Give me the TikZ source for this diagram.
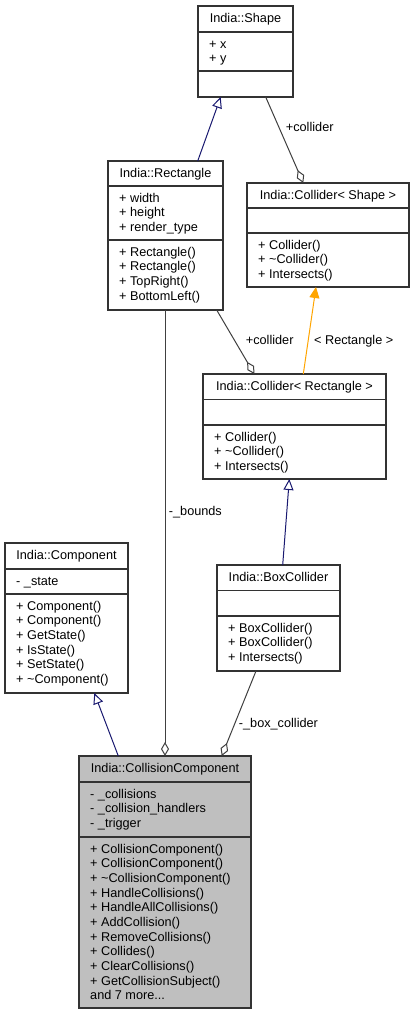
\documentclass[tikz,border=0pt]{standalone}
\usepackage{fontspec}
\setmainfont{Liberation Sans}
\usetikzlibrary{arrows.meta}
\definecolor{edgegray}{HTML}{404040}
\definecolor{inhblue}{HTML}{191970}
\definecolor{tmplorange}{HTML}{FFA500}
\definecolor{ccfill}{HTML}{BFBFBF}
\tikzset{
  classbox/.style={draw=black!80, line width=1.2pt, inner sep=0pt, outer sep=0pt},
  sepline/.style={draw=black!80, line width=1.2pt},
  txt/.style={font=\fontsize{12.7}{14.65}\selectfont, inner sep=0pt, text=black},
  inherit/.style={draw=inhblue, line width=1pt, -{Triangle[length=11pt,width=10pt,fill=white]}},
  aggr/.style={draw=edgegray, line width=1pt, -{Diamond[length=14pt,width=8pt,fill=white]}},
  tmpl/.style={draw=tmplorange, line width=1pt, -{Triangle[length=11pt,width=10pt]}},
}
% #1 name #2 L #3 T #4 R #5 B #6 S1 #7 S2 #8 title #9 fill
\newcommand\umlclass[9]{%
  \node[classbox, fill=#9, minimum width={#4pt-#2pt}, minimum height={#5pt-#3pt}] (#1) at ({(#2+#4)/2},{(#3+#5)/2}) {};
  \draw[sepline] (#2,#6) -- (#4,#6);
  \draw[sepline] (#2,#7) -- (#4,#7);
  \node[txt, anchor=base] (#1-title) at ({(#2+#4)/2},{#3+16.6}) {#8};
}
% #1 name prefix #2 x #3 first baseline #4 list
\newcommand\memberlines[4]{%
  \foreach \t [count=\i from 0] in {#4} {\node[txt, anchor=base west] (#1-\i) at (#2,{#3+\i*14.65}) {\t};}
}
\begin{document}
\begin{tikzpicture}[x=1pt,y=-1pt]
\useasboundingbox[fill=white] (0,0) rectangle (414,1015);

% India::Shape
\umlclass{shape}{198}{6}{293}{97}{32}{71}{India::Shape}{white}
\memberlines{shapeA}{209}{48.3}{+ x,+ y}

% India::Rectangle
\umlclass{rect}{108}{161}{223}{310}{186}{240}{India::Rectangle}{white}
\memberlines{rectA}{119}{202.3}{+ width,+ height,+ render\_type}
\memberlines{rectM}{119}{256.3}{+ Rectangle(),+ Rectangle(),+ TopRight(),+ BottomLeft()}

% India::Collider< Shape >
\umlclass{cs}{247}{183}{409}{287}{208}{233}{India::Collider< Shape >}{white}
\memberlines{csM}{258}{249.3}{+ Collider(),+ \textasciitilde Collider(),+ Intersects()}

% India::Collider< Rectangle >
\umlclass{cr}{203}{374}{386}{479}{399.5}{425}{India::Collider< Rectangle >}{white}
\memberlines{crM}{214}{441.3}{+ Collider(),+ \textasciitilde Collider(),+ Intersects()}

% India::Component
\umlclass{comp}{5}{543}{128}{693}{569}{594}{India::Component}{white}
\memberlines{compA}{16}{585.3}{- \_state}
\memberlines{compM}{16}{610.3}{+ Component(),+ Component(),+ GetState(),+ IsState(),+ SetState(),+ \textasciitilde Component()}

% India::BoxCollider
\umlclass{bc}{217}{565}{340}{671}{590.5}{616}{India::BoxCollider}{white}
\memberlines{bcM}{228}{632.3}{+ BoxCollider(),+ BoxCollider(),+ Intersects()}

% India::CollisionComponent
\umlclass{cc}{79}{756}{251}{1008}{782}{837}{India::CollisionComponent}{ccfill}
\memberlines{ccA}{90}{798.3}{- \_collisions,- \_collision\_handlers,- \_trigger}
\memberlines{ccM}{90}{853.3}{+ CollisionComponent(),+ CollisionComponent(),+ \textasciitilde CollisionComponent(),+ HandleCollisions(),+ HandleAllCollisions(),+ AddCollision(),+ RemoveCollisions(),+ Collides(),+ ClearCollisions(),+ GetCollisionSubject(),and 7 more.{}.{}.}

% connectors
\draw[inherit] ([xshift=32.2pt]rect.north) -- ([xshift=-24.8pt]shape.south);
\draw[aggr] ([xshift=20.2pt]shape.south) -- ([xshift=-24.7pt]cs.north);
\node[txt, anchor=base west] (lblcolliderA) at (285.7,131.7) {+collider};
\draw[aggr] ([xshift=51.2pt]rect.south) -- ([xshift=-40.2pt]cr.north);
\node[txt, anchor=base west] (lblcolliderB) at (245.7,344.3) {+collider};
\draw[tmpl] ([xshift=8.8pt]cr.north) -- ([xshift=-12pt]cs.south);
\node[txt, anchor=base west] (lblrect) at (314,344.3) {< Rectangle >};
\draw[inherit] ([xshift=4.2pt]bc.north) -- ([xshift=-5.2pt]cr.south);
\draw[aggr] ([xshift=-0.5pt]rect.south) -- ([xshift=-0.5pt]rect.south |- cc.north);
\node[txt, anchor=base west] (lblbounds) at (168.7,515) {-\_bounds};
\draw[inherit] ([xshift=-46.7pt]cc.north) -- ([xshift=27.8pt]comp.south);
\draw[aggr] ([xshift=-22.5pt]bc.south) -- ([xshift=56.7pt]cc.north);
\node[txt, anchor=base west] (lblbox) at (238.7,727.7) {-\_box\_collider};
\end{tikzpicture}
\end{document}
